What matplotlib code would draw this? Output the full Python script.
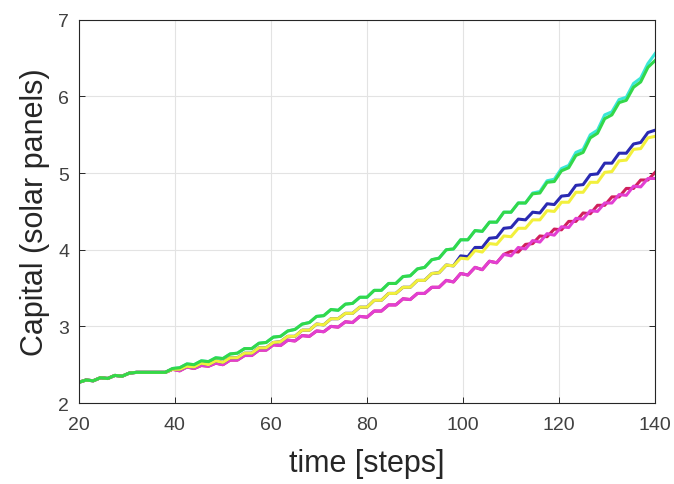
import numpy as np
import matplotlib
matplotlib.use("Agg")
import matplotlib.pyplot as plt

plt.rcParams['font.family'] = ['Liberation Sans', 'DejaVu Sans']

# time steps (peaks/troughs of the oscillation, every 1.5 steps)
steps = np.arange(20, 140.01, 1.5)

# shared start (all runs coincide up to step 38)
start = [2.27, 2.30, 2.29, 2.33, 2.32, 2.36, 2.35, 2.39, 2.40, 2.40, 2.40, 2.40, 2.40]

green = start + [
    2.45, 2.46, 2.51, 2.50, 2.55, 2.54, 2.59, 2.58, 2.64, 2.65,
    2.71, 2.71, 2.78, 2.79, 2.86, 2.87, 2.94, 2.96, 3.03, 3.05,
    3.13, 3.14, 3.22, 3.21, 3.29, 3.30, 3.38, 3.38, 3.47, 3.47,
    3.56, 3.56, 3.65, 3.66, 3.75, 3.77, 3.87, 3.89, 4.00, 4.01,
    4.13, 4.13, 4.25, 4.24, 4.36, 4.36, 4.49, 4.49, 4.61, 4.61,
    4.73, 4.74, 4.88, 4.89, 5.03, 5.07, 5.23, 5.27, 5.46, 5.52,
    5.71, 5.76, 5.92, 5.95, 6.12, 6.19, 6.38, 6.47]

yellow = start + [
    2.44, 2.44, 2.48, 2.47, 2.52, 2.50, 2.55, 2.53, 2.59, 2.59,
    2.65, 2.65, 2.72, 2.72, 2.79, 2.80, 2.87, 2.87, 2.95, 2.95,
    3.03, 3.02, 3.10, 3.10, 3.17, 3.17, 3.25, 3.25, 3.34, 3.34,
    3.43, 3.43, 3.51, 3.51, 3.60, 3.60, 3.69, 3.70, 3.80, 3.79,
    3.89, 3.88, 3.99, 3.97, 4.08, 4.07, 4.18, 4.17, 4.28, 4.28,
    4.39, 4.39, 4.51, 4.50, 4.62, 4.62, 4.75, 4.75, 4.88, 4.88,
    5.01, 5.02, 5.16, 5.17, 5.31, 5.32, 5.46, 5.48]

magenta = start + [
    2.44, 2.42, 2.47, 2.45, 2.49, 2.48, 2.52, 2.50, 2.56, 2.56,
    2.62, 2.62, 2.69, 2.69, 2.76, 2.75, 2.82, 2.81, 2.88, 2.87,
    2.94, 2.93, 3.00, 2.99, 3.06, 3.05, 3.13, 3.12, 3.20, 3.20,
    3.28, 3.28, 3.36, 3.35, 3.43, 3.43, 3.51, 3.51, 3.60, 3.58,
    3.69, 3.67, 3.77, 3.74, 3.85, 3.83, 3.94, 3.92, 4.03, 4.01,
    4.12, 4.10, 4.21, 4.19, 4.30, 4.29, 4.41, 4.40, 4.51, 4.50,
    4.61, 4.61, 4.72, 4.71, 4.83, 4.82, 4.93, 4.93]

# runs that split off late (identical to their partner before)
blue_tail = [3.92, 3.91, 4.03, 4.03, 4.15, 4.16, 4.28, 4.29, 4.40, 4.39,
             4.49, 4.48, 4.60, 4.59, 4.70, 4.71, 4.84, 4.85, 4.98, 4.99,
             5.13, 5.13, 5.26, 5.26, 5.38, 5.40, 5.53, 5.56]
blue = yellow[:len(yellow) - len(blue_tail)] + blue_tail

cyan_tail = [4.74, 4.76, 4.90, 4.92, 5.06, 5.10, 5.27, 5.31, 5.50, 5.56,
             5.76, 5.80, 5.96, 5.99, 6.17, 6.24, 6.43, 6.56]
cyan = green[:len(green) - len(cyan_tail)] + cyan_tail

red_tail = [3.98, 3.97, 4.07, 4.08, 4.18, 4.17, 4.27, 4.26, 4.37, 4.37,
            4.48, 4.47, 4.58, 4.58, 4.69, 4.69, 4.80, 4.80, 4.91, 4.91, 5.01]
red = magenta[:len(magenta) - len(red_tail)] + red_tail

series = [
    (cyan, '#3ae6d8'),
    (red, '#d0205c'),
    (magenta, '#e23fd2'),
    (blue, '#2a2ab2'),
    (yellow, '#f2f03c'),
    (green, '#33d84a'),
]

fig = plt.figure(figsize=(6.74, 4.85), dpi=100)
ax = fig.add_axes([0.117, 0.167, 0.855, 0.790])

for vals, col in series:
    ax.plot(steps, vals, color=col, lw=2.2, solid_joinstyle='round')

ax.set_xlim(20, 140)
ax.set_ylim(2, 7)
ax.set_xticks([20, 40, 60, 80, 100, 120, 140])
ax.set_yticks([2, 3, 4, 5, 6, 7])
ax.grid(True, color='#e3e3e3', lw=0.8)
ax.set_axisbelow(True)
ax.tick_params(direction='in', length=4, width=0.7, colors='#262626',
               labelsize=14, labelcolor='#404040', top=False, right=True)
ax.tick_params(axis='x', pad=9)
ax.tick_params(axis='y', pad=7)
for sp in ax.spines.values():
    sp.set_color('#262626')
    sp.set_linewidth(0.8)

ax.set_xlabel('time [steps]', fontsize=22, color='#262626', labelpad=11)
ax.set_ylabel('Capital (solar panels)', fontsize=22, color='#262626', labelpad=6)

fig.savefig('out.png', dpi=100)
